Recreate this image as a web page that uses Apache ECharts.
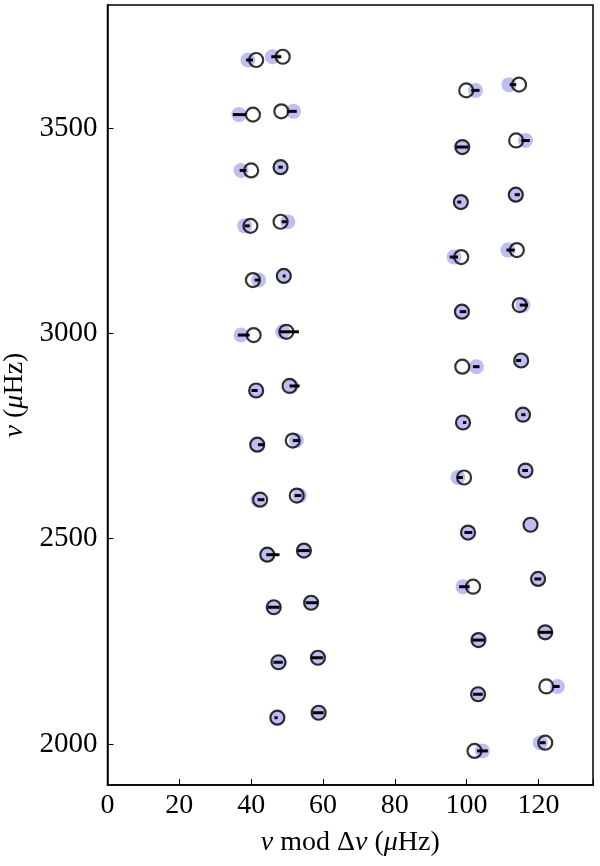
<!DOCTYPE html>
<html>
<head>
<meta charset="utf-8">
<script src="https://cdn.jsdelivr.net/npm/echarts@6/dist/echarts.min.js"></script>
<style>
  html, body { margin: 0; padding: 0; background: #fff; }
  #chart { width: 600px; height: 866px; }
</style>
</head>
<body>
<div id="chart"></div>
<script>
// frequency (muHz) of each mode
const nu = [3666, 3674, 3533, 3541, 3397, 3405, 3262, 3272, 3130, 3140, 2996, 3004,
  2861, 2872, 2729, 2739, 2595, 2605, 2461, 2471, 2333, 2344, 2199, 2210, 2064, 2076,
  3592, 3606, 3470, 3454, 3320, 3338, 3186, 3203, 3053, 3069, 2919, 2934,
  2783, 2802, 2649, 2666, 2515, 2534, 2383, 2402, 2253, 2272, 2121, 2140, 1983, 2003]
// model (open circles), nu mod dnu
const modelMod = [41.4, 48.8, 40.5, 48.4, 40.0, 48.2, 39.8, 48.2, 40.5, 49.1, 40.7, 49.8,
  41.4, 50.7, 41.7, 51.6, 42.5, 52.7, 44.5, 54.7, 46.3, 56.7, 47.6, 58.6, 47.3, 58.8,
  99.9, 114.6, 113.8, 98.8, 98.4, 113.7, 98.5, 114.0, 98.7, 114.8, 98.8, 115.2,
  99.0, 115.7, 99.3, 116.4, 100.4, 117.8, 101.8, 119.9, 103.3, 121.9, 103.2, 122.2, 102.2, 121.9]
// observed (blue dots), nu mod dnu
const obsMod = [39.1, 45.9, 36.6, 51.8, 37.2, 48.2, 38.2, 50.2, 42.1, 49.1, 37.2, 48.8,
  41.4, 51.2, 41.7, 52.6, 41.9, 53.5, 44.5, 54.7, 46.3, 56.7, 47.9, 58.6, 47.3, 58.8,
  102.5, 111.8, 116.4, 98.8, 98.4, 113.7, 96.5, 111.5, 98.7, 115.7, 102.7, 115.2,
  99.0, 115.7, 97.6, 116.4, 100.4, 117.8, 99.0, 119.9, 103.3, 121.9, 103.2, 125.3, 104.4, 120.5]
// error bar ends
const barLo = [38.6, 45.6, 34.9, 50.1, 36.8, 47.6, 38.2, 48.5, 41.0, 48.8, 36.3, 47.9,
  40.1, 50.7, 41.9, 51.6, 41.8, 52.1, 44.2, 53.0, 44.7, 55.2, 46.2, 56.7, 46.5, 57.2,
  101.3, 112.0, 115.2, 97.1, 97.4, 113.4, 95.3, 111.1, 98.1, 114.8, 101.8, 113.8,
  99.0, 115.2, 97.4, 115.5, 99.4, 117.8, 97.9, 118.9, 101.6, 120.1, 101.8, 124.0, 102.9, 120.3]
const barHi = [40.5, 48.4, 38.6, 52.7, 38.7, 48.8, 39.6, 49.9, 42.3, 49.6, 39.6, 53.3,
  41.8, 53.5, 43.7, 53.5, 43.7, 54.0, 47.9, 56.3, 47.9, 58.6, 48.8, 60.0, 47.4, 60.2,
  103.6, 113.8, 117.6, 100.4, 98.5, 114.8, 97.6, 113.4, 99.9, 117.1, 103.6, 115.2,
  99.9, 116.4, 99.0, 117.1, 101.6, 117.8, 100.8, 120.8, 105.0, 123.9, 104.5, 125.9, 105.9, 122.0]

const xTicks = [0, 20, 40, 60, 80, 100, 120]
const yTicks = [2000, 2500, 3000, 3500]

const serif = 'Liberation Serif'

const chart = echarts.init(document.getElementById('chart'))

chart.setOption({
  animation: false,
  backgroundColor: '#fff',
  grid: {
    left: 107.5,
    right: 7,
    top: 5,
    bottom: 81,
    containLabel: false,
    outerBoundsMode: 'none',
    show: true,
    borderColor: '#000',
    borderWidth: 1.5
  },
  xAxis: {
    type: 'value',
    min: 0,
    max: 135.2,
    interval: 20,
    name: '{i|ν} mod Δ{i|ν} ({i|μ}Hz)',
    nameLocation: 'middle',
    nameGap: 44,
    nameTextStyle: {
      fontFamily: serif, fontSize: 28, color: '#000',
      rich: { i: { fontFamily: serif, fontSize: 28, fontStyle: 'italic', color: '#000' } }
    },
    axisLine: { lineStyle: { color: '#000', width: 1.5 } },
    axisTick: { inside: true, length: 6, lineStyle: { color: '#000' } },
    axisLabel: {
      fontFamily: serif, fontSize: 28, color: '#000', margin: 7,
      customValues: xTicks,
      formatter: v => String(v)
    },
    splitLine: { show: false }
  },
  yAxis: {
    type: 'value',
    min: 1900,
    max: 3800,
    name: '{i|ν} ({i|μ}Hz)',
    nameLocation: 'middle',
    nameGap: 74,
    nameTextStyle: {
      fontFamily: serif, fontSize: 28, color: '#000',
      rich: { i: { fontFamily: serif, fontSize: 28, fontStyle: 'italic', color: '#000' } }
    },
    axisLine: { lineStyle: { color: '#000', width: 1.5 } },
    axisTick: { inside: true, length: 6, lineStyle: { color: '#000' }, customValues: yTicks },
    axisLabel: {
      fontFamily: serif, fontSize: 29, color: '#000', margin: 10,
      customValues: yTicks,
      formatter: v => String(v)
    },
    splitLine: { show: false }
  },
  series: [
    {
      name: 'observed',
      type: 'scatter',
      symbol: 'circle',
      symbolSize: 15,
      itemStyle: { color: 'rgba(160,160,238,0.85)' },
      data: obsMod.map((x, i) => [x, nu[i]]),
      z: 2
    },
    {
      name: 'error',
      type: 'custom',
      data: barLo.map((lo, i) => [lo, barHi[i], nu[i]]),
      encode: { x: [0, 1], y: 2 },
      renderItem(params, api) {
        const a = api.coord([api.value(0), api.value(2)])
        const b = api.coord([api.value(1), api.value(2)])
        return {
          type: 'line',
          shape: { x1: a[0], y1: a[1], x2: b[0], y2: b[1] },
          style: { stroke: '#000', lineWidth: 3 }
        }
      },
      z: 3
    },
    {
      name: 'model',
      type: 'scatter',
      symbol: 'circle',
      symbolSize: 14,
      itemStyle: { color: 'rgba(0,0,0,0)', borderColor: '#000', borderWidth: 2.2 },
      data: modelMod.map((x, i) => [x, nu[i]]),
      z: 4
    }
  ]
})
</script>
</body>
</html>
